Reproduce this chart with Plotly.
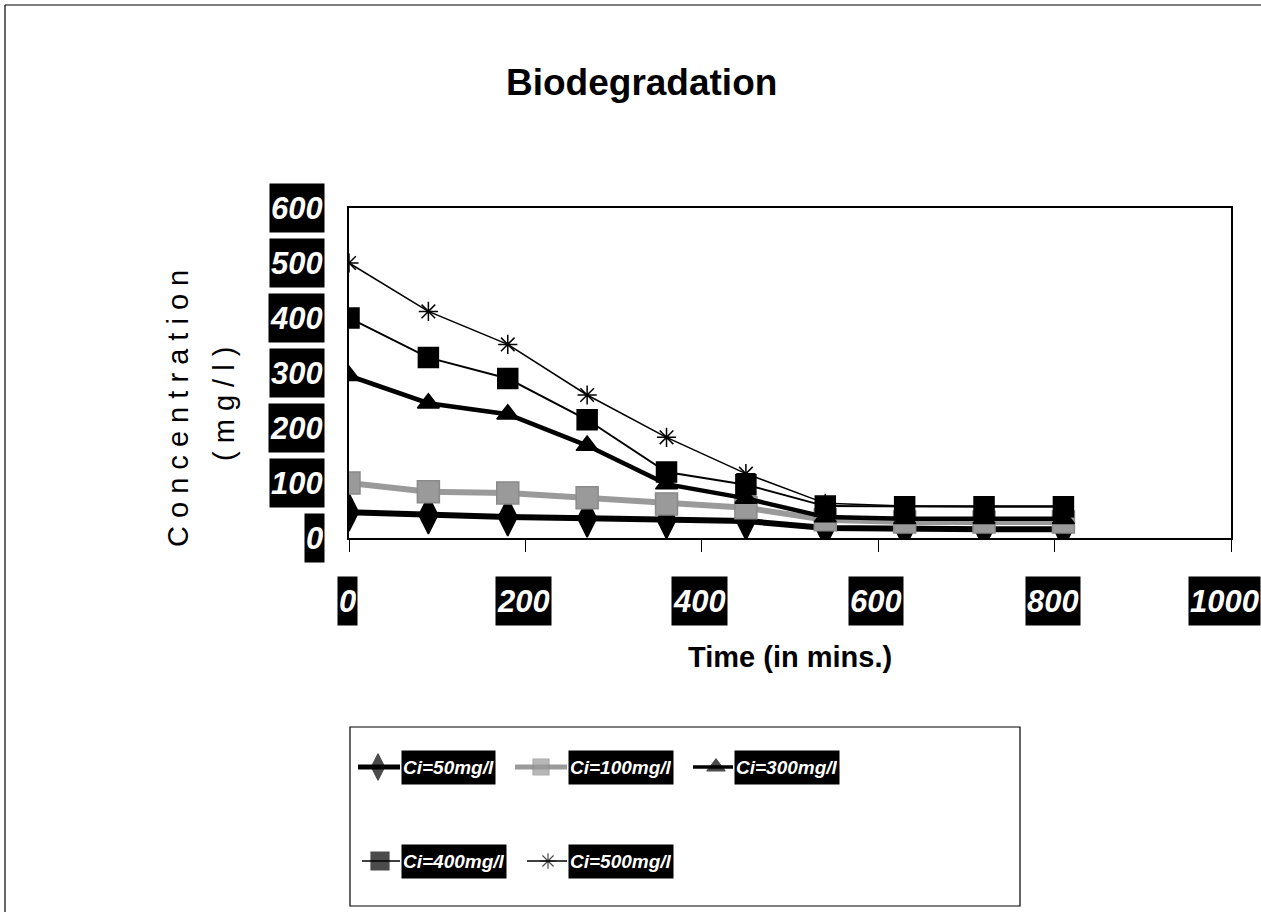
import plotly.graph_objects as go

# ---- data -------------------------------------------------------------
time_min = [0, 90, 180, 270, 360, 450, 540, 630, 720, 810]
c50 = [47, 42, 38, 36, 33, 31, 18, 16, 16, 16]
c100 = [100, 84, 82, 73, 62, 55, 33, 29, 29, 29]
c300 = [295, 245, 225, 168, 98, 72, 38, 35, 35, 35]
c400 = [400, 328, 290, 215, 120, 97, 58, 57, 57, 57]
c500 = [500, 412, 352, 260, 183, 117, 63, 58, 58, 58]

series_names = ["Ci=50mg/l", "Ci=100mg/l", "Ci=300mg/l", "Ci=400mg/l", "Ci=500mg/l"]
x_ticks = [0, 200, 400, 600, 800, 1000]
y_ticks = [0, 100, 200, 300, 400, 500, 600]

# ---- styling ----------------------------------------------------------
W, H = 1261, 912
SANS = "Liberation Sans, Arial, sans-serif"


def px(x):
    return x / W


def py(y):
    return 1 - y / H


styles = [
    dict(color="black", width=6, symbol="diamond-tall", size=27, msize=19, lcolor="black"),
    dict(color="#9a9a9a", width=6, symbol="square", size=22, msize=16, lcolor="#8a8a8a"),
    dict(color="black", width=4.5, symbol="triangle-up", size=19, msize=16, lcolor="black"),
    dict(color="black", width=2, symbol="square", size=20, msize=18, lcolor="black"),
    dict(color="black", width=1.5, symbol="asterisk-open", size=16, msize=13, lcolor="black"),
]
values = [c50, c100, c300, c400, c500]

fig = go.Figure()

for name, vals, st in zip(series_names, values, styles):
    fig.add_trace(go.Scatter(
        x=time_min, y=vals, name=name, mode="lines+markers",
        line=dict(color=st["color"], width=st["width"]),
        marker=dict(symbol=st["symbol"], size=st["size"], color=st["color"],
                    line=dict(color=st["lcolor"], width=1.5)),
        showlegend=False, xaxis="x", yaxis="y",
    ))

# ---- hand-built legend (samples live on their own small axes) ---------
LEG_L, LEG_R, LEG_T, LEG_B = 350, 1020, 727, 906
leg_w, leg_h = LEG_R - LEG_L, LEG_B - LEG_T
# (sample start, marker, sample end / label left, row centre) inside the box
leg_slots = [(8, 28, 50, 40), (165, 191, 217, 40), (343, 366, 383, 40),
             (12, 30, 50, 134), (177, 198, 217, 134)]

annotations = []
for name, st, (x0, xm, x1, yr) in zip(series_names, styles, leg_slots):
    fig.add_trace(go.Scatter(
        x=[x0, xm, x1], y=[yr, yr, yr], mode="lines+markers",
        line=dict(color=st["color"], width=max(1.5, st["width"] * 0.8)),
        marker=dict(symbol=st["symbol"], size=[0, st["msize"], 0], color=st["color"],
                    line=dict(color=st["lcolor"], width=1.2)),
        showlegend=False, hoverinfo="skip", xaxis="x2", yaxis="y2",
    ))
    annotations.append(dict(
        x=x1 + 1, y=yr, xref="x2", yref="y2", xanchor="left", yanchor="middle",
        text=name, showarrow=False, bgcolor="black", borderpad=1, height=31,
        font=dict(family=SANS, size=19, color="white", weight="bold", style="italic"),
    ))

# ---- tick labels in black boxes ---------------------------------------
TICK_FONT = dict(family=SANS, size=31, color="white", weight="bold", style="italic")
for v in y_ticks:
    annotations.append(dict(
        x=px(325), y=v, xref="paper", yref="y", xanchor="right", yanchor="middle",
        text=str(v), showarrow=False, bgcolor="black", borderpad=1, height=46,
        font=TICK_FONT,
    ))
for v in x_ticks:
    # the last label sits against the right edge of the page
    shift = -7 if v == x_ticks[-1] else -2
    annotations.append(dict(
        x=v, y=py(601), xref="x", yref="paper", xanchor="center", yanchor="middle",
        xshift=shift, text=str(v), showarrow=False, bgcolor="black", borderpad=1,
        height=46, font=TICK_FONT,
    ))

# ---- titles -----------------------------------------------------------
annotations += [
    dict(x=px(641), y=py(82), xref="paper", yref="paper", text="Biodegradation",
         xanchor="center", yanchor="middle", showarrow=False,
         font=dict(family=SANS, size=37, color="black", weight="bold")),
    dict(x=px(790), y=py(657), xref="paper", yref="paper", text="Time (in mins.)",
         xanchor="center", yanchor="middle", showarrow=False,
         font=dict(family=SANS, size=29, color="black", weight="bold")),
    dict(x=px(178), y=py(409), xref="paper", yref="paper", text="C o n c e n t r a t i o n",
         xanchor="center", yanchor="middle", textangle=-90, showarrow=False,
         font=dict(family=SANS, size=29, color="black")),
    dict(x=px(224), y=py(404), xref="paper", yref="paper", text="( m g / l )",
         xanchor="center", yanchor="middle", textangle=-90, showarrow=False,
         font=dict(family=SANS, size=29, color="black")),
]

shapes = [
    # outer chart frame (top and left edges)
    dict(type="line", xref="paper", yref="paper", x0=px(5), x1=1, y0=py(5), y1=py(5),
         line=dict(color="black", width=1.2)),
    dict(type="line", xref="paper", yref="paper", x0=px(5), x1=px(5), y0=py(5), y1=0,
         line=dict(color="black", width=1.2)),
    # legend frame
    dict(type="rect", xref="paper", yref="paper", x0=px(LEG_L), x1=px(LEG_R),
         y0=py(LEG_B), y1=py(LEG_T), line=dict(color="black", width=1.2)),
]

fig.update_layout(
    width=W, height=H, margin=dict(l=0, r=0, t=0, b=0),
    paper_bgcolor="white", plot_bgcolor="white",
    showlegend=False,
    xaxis=dict(domain=[px(349), px(1231)], range=[0, 1000], tickvals=x_ticks,
               showticklabels=False, ticks="outside", ticklen=12, tickwidth=1,
               tickcolor="black", showline=True, linecolor="black", linewidth=1.5,
               mirror=True, showgrid=False, zeroline=False),
    yaxis=dict(domain=[py(538), py(208)], range=[0, 600], tickvals=y_ticks,
               showticklabels=False, ticks="", showline=True, linecolor="black",
               linewidth=1.5, mirror=True, showgrid=False, zeroline=False),
    xaxis2=dict(domain=[px(LEG_L), px(LEG_R)], range=[0, leg_w], visible=False,
                anchor="y2", fixedrange=True),
    yaxis2=dict(domain=[py(LEG_B), py(LEG_T)], range=[leg_h, 0], visible=False,
                anchor="x2", fixedrange=True),
    annotations=annotations,
    shapes=shapes,
)

fig.write_html("out.html")
